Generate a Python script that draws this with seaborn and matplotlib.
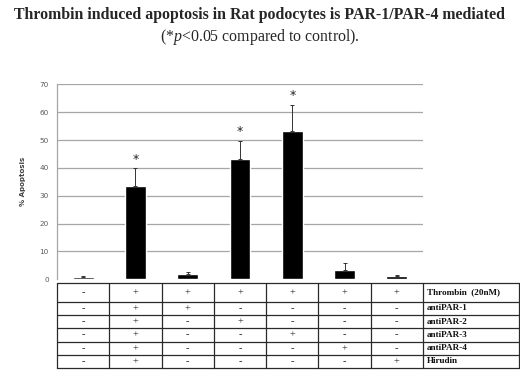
import numpy as np
import pandas as pd
import matplotlib
matplotlib.use("Agg")
import matplotlib.pyplot as plt
import seaborn as sns

groups = ["G1", "G2", "G3", "G4", "G5", "G6", "G7"]
apoptosis = [0.7, 33.5, 1.8, 43.1, 53.1, 3.3, 1.2]
errors = [0.4, 6.3, 0.8, 6.7, 9.6, 2.6, 0.5]
significant = [False, True, False, True, True, False, False]
yticks = [0, 10, 20, 30, 40, 50, 60, 70]

row_labels = ["Thrombin  (20nM)", "antiPAR-1", "antiPAR-2", "antiPAR-3", "antiPAR-4", "Hirudin"]
thrombin = ["-", "+", "+", "+", "+", "+", "+"]
antipar1 = ["-", "+", "+", "-", "-", "-", "-"]
antipar2 = ["-", "+", "-", "+", "-", "-", "-"]
antipar3 = ["-", "+", "-", "-", "+", "-", "-"]
antipar4 = ["-", "+", "-", "-", "-", "+", "-"]
hirudin = ["-", "+", "-", "-", "-", "-", "+"]
table_rows = [thrombin, antipar1, antipar2, antipar3, antipar4, hirudin]

title = "Thrombin induced apoptosis in Rat podocytes is PAR-1/PAR-4 mediated"

sns.set_theme(style="white")
plt.rcParams["mathtext.fontset"] = "custom"
plt.rcParams["mathtext.rm"] = "Liberation Serif"
plt.rcParams["mathtext.it"] = "Liberation Serif:italic"

W, H = 520, 372
fig = plt.figure(figsize=(W / 100, H / 100), dpi=100)

def px_axes(x0, y0, x1, y1):
    return fig.add_axes([x0 / W, 1 - y1 / H, (x1 - x0) / W, (y1 - y0) / H])

# bar axes
ax = px_axes(57, 84.3, 423, 279.3)
df = pd.DataFrame({"group": groups, "apoptosis": apoptosis})
sns.barplot(data=df, x="group", y="apoptosis", color="black", width=0.4,
            saturation=1, ax=ax, errorbar=None, zorder=3)
xs = np.arange(len(groups))
ax.errorbar(xs, apoptosis, yerr=[np.zeros(len(errors)), errors], fmt="none",
            ecolor="#333333", elinewidth=0.7, capsize=1.5, capthick=0.7, zorder=4)
for x, v, e, s in zip(xs, apoptosis, errors, significant):
    if s:
        ax.text(x, v + e + 3.2, "*", ha="center", va="center", fontsize=9,
                color="#222222", family="DejaVu Sans")
ax.set_xlim(-0.5, len(groups) - 0.5)
ax.set_ylim(0, 70)
ax.set_yticks(yticks)
ax.set_yticklabels([str(t) for t in yticks], fontsize=5.2, color="#595959")
ax.tick_params(axis="y", length=0, pad=6)
ax.set_xticks([])
ax.set_xlabel("")
ax.set_ylabel("% Apoptosis", fontsize=5, fontweight="bold", color="#404040", labelpad=10)
for t in yticks[1:]:
    ax.axhline(t, color="#a6a6a6", lw=0.9, zorder=1)
for sp in ["top", "right", "bottom"]:
    ax.spines[sp].set_visible(False)
ax.spines["left"].set_color("#a6a6a6")
ax.spines["left"].set_linewidth(0.9)

# table axes
tx0, tx1 = 57, 519
colw = (423 - 57) / 7
tab = px_axes(tx0, 283, tx1, 368)
tab.set_xlim(-0.5, -0.5 + (tx1 - tx0) / colw)
tab.set_ylim(368, 283)
tab.axis("off")
row_edges = [283, 301.7, 315, 328.3, 341.7, 355, 367.7]
xmax = -0.5 + (tx1 - tx0) / colw
lc = "#2a2a2a"
for yv in row_edges:
    tab.plot([-0.5, xmax], [yv, yv], color=lc, lw=0.9, clip_on=False)
for i in range(len(groups) + 1):
    xe = i - 0.5
    tab.plot([xe, xe], [row_edges[0], row_edges[-1]], color=lc, lw=0.9, clip_on=False)
tab.plot([xmax, xmax], [row_edges[0], row_edges[-1]], color=lc, lw=0.9, clip_on=False)
for r, (lab, vals) in enumerate(zip(row_labels, table_rows)):
    yc = (row_edges[r] + row_edges[r + 1]) / 2
    for c, v in enumerate(vals):
        tab.text(c, yc, v, ha="center", va="center", fontsize=7.5,
                 family="Liberation Serif", color="#222222")
    tab.text(len(groups) - 0.5 + 4 / colw, yc, lab, ha="left", va="center",
             fontsize=6.6, fontweight="bold", family="Liberation Serif", color="#111111")

fig.text(0.5, 1 - 15 / H, title, ha="center", va="center", fontsize=11.4,
         fontweight="bold", family="Liberation Serif")
fig.text(0.5, 1 - 37 / H, r"(*$\mathit{p}$<0.05 compared to control).", ha="center",
         va="center", fontsize=11.4, family="Liberation Serif")

fig.savefig("out.png", dpi=100)
